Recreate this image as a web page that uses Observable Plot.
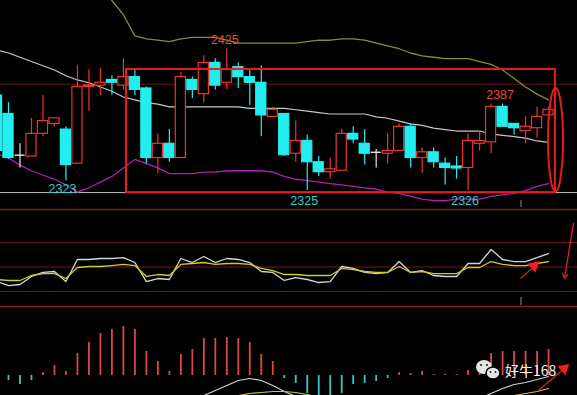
<!DOCTYPE html>
<html><head><meta charset="utf-8">
<script src="https://cdn.jsdelivr.net/npm/d3@7"></script>
<script src="https://cdn.jsdelivr.net/npm/@observablehq/plot@0.6"></script>
<style>html,body{margin:0;padding:0;background:#000;overflow:hidden}#c svg{display:block}</style>
</head><body><div id="c"></div>
<script>
// ---- data ----
const idx   = [-1,0,1,2,3,4,5,6,7,8,9,10,11,12,13,14,15,16,17,18,19,20,21,22,23,24,25,26,27,28,29,30,31,32,33,34,35,36,37,38,39,40,41,42,43,44,45,46,47];
const open  = [2392,2379,2350,2349,2365,2372,2368,2344,2398,2399,2403,2399,2405,2397,2348,2358,2348,2403,2393,2415,2401,2412,2405,2401,2377,2379,2351,2360,2345,2338,2339,2365,2358,2352,2351,2353,2370,2348,2352,2344,2342,2341,2358,2359,2384,2372,2367,2369,2378];
const high  = [2396,2387,2358,2376,2392,2376,2370,2413,2410,2411,2406,2418,2410,2398,2365,2368,2408,2405,2420,2418,2425,2415,2410,2413,2384,2379,2374,2364,2349,2348,2368,2370,2368,2354,2365,2372,2372,2355,2355,2348,2349,2365,2367,2386,2386,2372,2377,2384,2384];
const low   = [2350,2347,2341,2349,2363,2370,2332,2344,2381,2392,2392,2396,2392,2344,2337,2345,2348,2390,2387,2396,2396,2397,2385,2363,2377,2349,2345,2325,2335,2333,2339,2358,2343,2341,2344,2353,2341,2337,2341,2329,2333,2325,2353,2351,2370,2364,2358,2362,2378];
const close = [2353,2348,2350,2365,2374,2376,2343,2398,2399,2401,2401,2405,2396,2348,2358,2348,2405,2396,2415,2399,2410,2405,2401,2378,2382,2350,2360,2345,2338,2340,2365,2361,2351,2352,2353,2370,2348,2352,2345,2341,2341,2360,2360,2384,2370,2369,2370,2377,2382];
const bollUp  = [null,null,null,null,null,null,null,null,null,2470,2459,2449,2434,2432,2431,2430,2432,2433,2433,2433,2431,2429,2429,2429,2429,2429,2429,2430,2431,2431,2432,2432,2431,2429,2427,2425,2422,2420,2419,2418,2418,2418,2416,2414,2410,2404,2398,2393,2389];
const bollMid = [2424,2422,2419,2416,2413,2410,2406,2403,2401,2398,2395,2391,2389,2387,2386,2384,2384,2384,2384,2384,2384,2384,2383,2383,2383,2383,2382,2381,2380,2379,2379,2379,2379,2377,2376,2374,2372,2371,2369,2368,2367,2367,2367,2365,2364,2363,2362,2360,2359];
const bollLow = [2351,2348,2343,2339,2336,2333,2329,2324,2327,2331,2335,2341,2347,2344,2341,2337,2337,2337,2338,2338,2339,2339,2339,2339,2338,2335,2333,2332,2331,2330,2329,2328,2327,2326,2324,2323,2321,2319,2318,2318,2319,2319,2319,2321,2322,2323,2325,2328,2330];
const kLine = [32.2,27.3,28.6,38.4,43.3,44.5,32.2,59.2,59.2,60.4,60.4,61.6,55.5,32.2,35.9,34.7,60.4,55.5,62.9,55.5,60.4,59.2,55.5,44.5,43.3,33.5,37.1,34.7,31.0,32.2,50.6,48.2,43.3,42.0,43.3,56.7,43.3,45.7,39.6,38.4,38.4,54.3,54.3,71.4,59.2,56.7,56.7,61.6,66.5];
const dLine = [34.7,33.5,33.5,39.6,42.0,42.0,35.9,49.4,50.6,50.6,51.8,53.1,51.8,38.4,40.8,39.6,53.1,54.3,55.5,53.1,54.3,54.3,53.1,48.2,45.7,40.8,40.8,39.6,39.6,39.6,48.2,46.9,44.5,43.3,43.3,50.6,43.3,44.5,42.0,42.0,42.0,49.4,49.4,56.7,53.1,51.8,51.8,54.3,56.7];
const macdHist = [null,-0.5,-0.9,-0.5,0.3,1.0,0.4,2.2,3.3,4.2,4.6,4.9,4.6,2.4,1.4,0.4,2.1,2.6,3.7,3.7,3.8,3.7,3.3,2.1,1.4,-0.3,-0.8,-1.8,-2.1,-2.1,-1.8,-0.9,-0.8,-0.6,-0.3,0.3,0.2,0.4,0.1,0.1,0.1,0.5,0.8,2.2,2.4,2.4,2.4,2.4,2.6];
const macdDif = [null,null,null,null,null,null,null,null,null,null,null,null,null,null,null,null,-3.0,-2.5,-2.0,-1.5,-1.0,-0.5,-0.3,-0.5,-1.0,-1.6,-2.1,-2.6,null,null,null,null,null,null,null,null,null,null,null,null,null,-2.8,-2.3,-1.8,-1.3,-0.9,-0.7,-0.4,-0.1];
const macdDea = [null,null,null,null,null,null,null,null,null,null,null,null,null,null,null,null,null,null,null,-2.6,-2.3,-2.0,-1.8,-1.7,-1.6,-1.6,-1.7,-1.9,-2.2,null,null,null,null,null,null,null,null,null,null,null,null,null,null,null,-2.4,-2.0,-1.8,-1.6,-1.3];
const labelIdx  = [19, 42, 5, 26, 40];
const labelText = ["2425","2387","2323","2325","2326"];
const labelAt   = ["high","high","low","low","low"];
const priceLine = [2400];
const baseLine  = [2323.6];
const kdjLevels = [20, 50, 80];
const kdjBounds = [120.4, 1.6];
const cursorIdx = 44.6;
const box = {x1: 10.27, x2: 47.6, y1: 2323.6, y2: 2410.4};
const ring = {x1: 47.0, x2: 48.3, y1: 2324, y2: 2397};

// ---- styles ----
const W = 577;
const xDomain = [-0.696, 49.52];
const RED = "#ee3333", CYAN = "#22eef0", WHITE = "#e6e6e6";
const FONT = "Liberation Sans, Arial, sans-serif";

const candles = idx.map((i, k) => ({i, o: open[k], h: high[k], l: low[k], c: close[k],
  up: bollUp[k], mid: bollMid[k], lo: bollLow[k], k: kLine[k], d: dLine[k],
  hist: macdHist[k], dif: macdDif[k], dea: macdDea[k]}));
const col = d => d.c > d.o ? RED : d.c < d.o ? CYAN : WHITE;
const hw = 0.44;

const labelOffsets = [[-2,-8.5],[9,-9],[-3.5,8.5],[-3,10.8],[-3,10]];
const labelMarks = labelIdx.map((i, k) => {
  const cd = candles.find(d => d.i === i);
  const isHigh = labelAt[k] === "high";
  return Plot.text([{i, p: isHigh ? cd.h : cd.l, t: labelText[k]}], {
    x: "i", y: "p", text: "t", dx: labelOffsets[k][0], dy: labelOffsets[k][1],
    fill: isHigh ? "#ea4a3c" : "#3ccaca", fontSize: 12.5, fontFamily: FONT
  });
});

const common = {width: W, marginTop: 0, marginRight: 0, marginBottom: 0, marginLeft: 0,
  x: {domain: xDomain, axis: null}, color: {type: "identity"},
  style: {background: "#000", overflow: "hidden", display: "block"}};

const pTop = Plot.plot({
  ...common, height: 207,
  y: {domain: [2313.1, 2459], axis: null},
  marks: [
    Plot.ruleY(priceLine, {stroke: "#6a1414"}),
    Plot.ruleY(baseLine, {stroke: "#c4c4c4"}),
    Plot.line(candles, {x: "i", y: "up", stroke: "#8c8c28", strokeWidth: 1.3, clip: true}),
    Plot.line(candles, {x: "i", y: "mid", stroke: "#c8c8c8", strokeWidth: 1.2, clip: true}),
    Plot.line(candles, {x: "i", y: "lo", stroke: "#b41eb4", strokeWidth: 1.3, clip: true}),
    Plot.ruleX(candles, {x: "i", y1: "l", y2: "h", stroke: col, strokeWidth: 1.2}),
    Plot.rect(candles, {x1: d => d.i - hw, x2: d => d.i + hw, y1: "o", y2: "c",
      fill: d => d.c > d.o ? "#000" : col(d), stroke: col, strokeWidth: 1.2}),
    Plot.ruleY(candles.filter(d => Math.abs(d.o - d.c) < 1.5), {y: "c", x1: d => d.i - hw, x2: d => d.i + hw, stroke: col, strokeWidth: 1.4}),
    Plot.rect([box], {x1: "x1", x2: "x2", y1: "y1", y2: "y2", fill: "none", stroke: "#e81c1c", strokeWidth: 2}),
    Plot.ruleX([cursorIdx], {y1: 2318, y2: 2313.1, stroke: "#8a8a8a"}),
    ...labelMarks
  ]
});
{
  const sx = pTop.scale("x"), sy = pTop.scale("y");
  const x1 = sx.apply(ring.x1), x2 = sx.apply(ring.x2), y1 = sy.apply(ring.y1), y2 = sy.apply(ring.y2);
  d3.select(pTop).append("ellipse")
    .attr("cx", (x1 + x2) / 2).attr("cy", (y1 + y2) / 2)
    .attr("rx", Math.abs(x2 - x1) / 2).attr("ry", Math.abs(y2 - y1) / 2)
    .attr("fill", "none").attr("stroke", "#e81c1c").attr("stroke-width", 2);
}

const pMid = Plot.plot({
  ...common, height: 101,
  y: {domain: [-0.81, 122.86], axis: null},
  marks: [
    Plot.ruleY(kdjLevels, {stroke: "#6e1818"}),
    Plot.ruleY(kdjBounds, {stroke: "#8c1c1c", strokeWidth: 1.6}),
    Plot.line(candles, {x: "i", y: "k", stroke: "#d6d6d6", strokeWidth: 1.3}),
    Plot.line(candles, {x: "i", y: "d", stroke: "#cccc30", strokeWidth: 1.3}),
    Plot.ruleX([cursorIdx], {y1: 12.7, y2: 2.9, stroke: "#8a8a8a"}),
    Plot.link([{x1: 44.56, y1: 35.9, x2: 46.0, y2: 53.5}], {x1: "x1", y1: "y1", x2: "x2", y2: "y2", stroke: "#e02020", strokeWidth: 1.2}),
    Plot.dot([{x: 45.75, y: 51.5}], {x: "x", y: "y", symbol: "triangle", rotate: 50, r: 4.5, fill: "#f02020", stroke: "none"}),
    Plot.arrow([{x1: 49.17, y1: 103.3, x2: 48.39, y2: 35.9}], {x1: "x1", y1: "y1", x2: "x2", y2: "y2", stroke: "#e02020", strokeWidth: 1.3, headLength: 6})
  ]
});

const pBot = Plot.plot({
  ...common, height: 87,
  y: {domain: [-2.0, 6.7], axis: null},
  marks: [
    Plot.ruleX(candles.filter(d => d.hist != null), {x: "i", y1: 0, y2: "hist",
      stroke: d => d.hist >= 0 ? "#d84a4a" : "#3cc8c0", strokeWidth: 1.8, clip: true}),
    Plot.line(candles, {x: "i", y: "dif", stroke: "#d0d0d0", strokeWidth: 1.2, clip: true}),
    Plot.line(candles, {x: "i", y: "dea", stroke: "#c8c830", strokeWidth: 1.2, clip: true}),
    Plot.link([{x1: 46.13, y1: -1.5, x2: 48.5, y2: 0.85}], {x1: "x1", y1: "y1", x2: "x2", y2: "y2", stroke: "#e02020", strokeWidth: 1.2}),
    Plot.dot([{x: 48.35, y: 0.7}], {x: "x", y: "y", symbol: "triangle", rotate: 49, r: 4.5, fill: "#f02020", stroke: "none"})
  ]
});
{
  // watermark
  const g = d3.select(pBot).append("g");
  g.append("ellipse").attr("cx", 484).attr("cy", 59).attr("rx", 8).attr("ry", 7).attr("fill", "#e4e4e4");
  g.append("ellipse").attr("cx", 493).attr("cy", 65).attr("rx", 7).attr("ry", 6).attr("fill", "#e4e4e4").attr("stroke", "#000").attr("stroke-width", 1.5);
  [[481,57,1.1],[487,57,1.1],[490.5,64,0.9],[495.5,64,0.9]].forEach(([x,y,r]) =>
    g.append("circle").attr("cx", x).attr("cy", y).attr("r", r).attr("fill", "#222"));
  g.append("text").attr("x", 505).attr("y", 68).attr("fill", "#f4f4f4").attr("text-anchor", "start")
    .attr("font-size", 14).attr("font-family", "Noto Sans CJK SC, sans-serif").text("好牛168");
}

const c = document.getElementById("c");
c.append(pTop, pMid, pBot);
</script>
</body></html>
